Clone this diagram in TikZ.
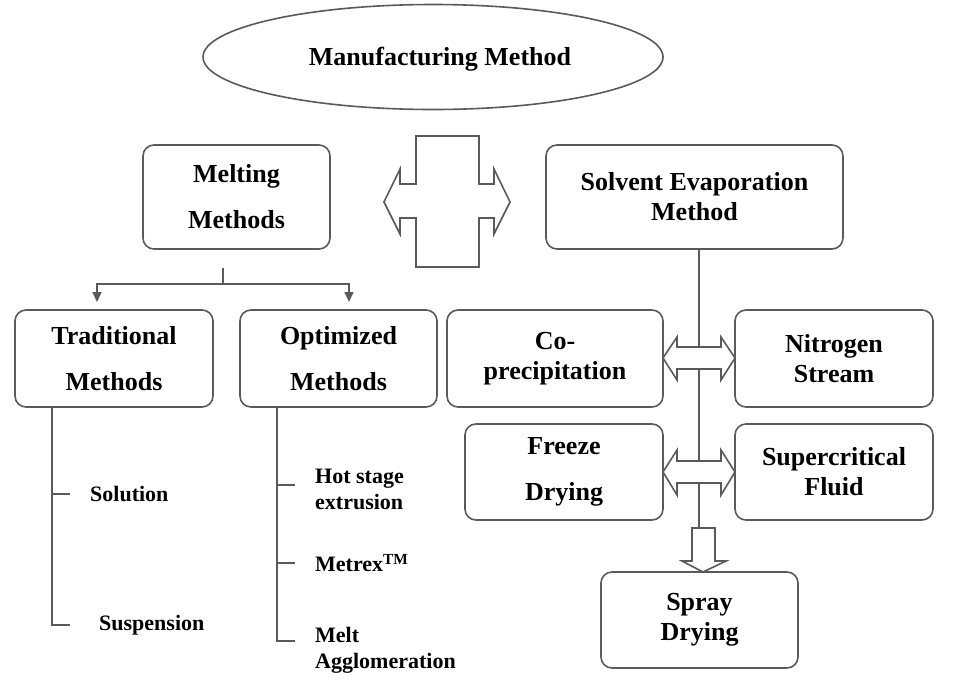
\documentclass[tikz,border=0pt]{standalone}
\usepackage{fontspec}
\setmainfont{Liberation Serif}
\usetikzlibrary{shapes.geometric,arrows.meta}
\definecolor{lc}{RGB}{90,90,90}
\begin{document}
\begin{tikzpicture}[x=1pt,y=-1pt,
  ln/.style={draw=lc,line width=1.6pt},
  box/.style={draw=lc,line width=1.6pt,rounded corners=11pt,inner sep=0pt,align=center,text=black},
  tight/.style={font=\bfseries\fontsize{26}{30}\selectfont},
  loose/.style={font=\bfseries\fontsize{26}{46}\selectfont},
  small/.style={font=\bfseries\fontsize{22}{26}\selectfont,anchor=west,inner sep=0pt,align=left},
  fat/.style={draw=lc,line width=1.6pt,fill=white,line join=miter},
  tip/.style={-{Triangle[width=9pt,length=10pt]}}
]
\fill[white] (0,0) rectangle (961,689);
\useasboundingbox (0,0) rectangle (961,689);

% top ellipse
\node[ellipse,draw=lc,line width=1.6pt,minimum width=460pt,minimum height=105pt,inner sep=0pt,
  label={[tight,xshift=7pt,yshift=-2pt]center:Manufacturing Method}] (mm) at (433,57) {};

% main boxes
\node[box,loose,minimum width=187pt,minimum height=104pt] (melt) at (236.5,197) {Melting\\Methods};
\node[box,tight,minimum width=297pt,minimum height=104pt] (solv) at (694.5,197) {Solvent Evaporation\\Method};

% cross double arrow
\draw[fat] (416,136) -- (479,136) -- (479,184) -- (494,184) -- (494,169) -- (510,202)
  -- (494,234) -- (494,218) -- (479,218) -- (479,267) -- (416,267) -- (416,218)
  -- (400,218) -- (400,234) -- (384,202) -- (400,169) -- (400,184) -- (416,184) -- cycle;

% melting sub boxes
\node[box,loose,minimum width=198pt,minimum height=97pt] (trad) at (114,358.5) {Traditional\\Methods};
\node[box,loose,minimum width=197pt,minimum height=97pt] (opt) at (338.5,358.5) {Optimized\\Methods};

\coordinate (mj) at (223,268);
\coordinate (mh) at (223,284);
\coordinate (ta) at (97,302);
\coordinate (oa) at (349,302);
\draw[ln] (mj) -- (mh);
\draw[ln,tip] (mh) -| (ta);
\draw[ln,tip] (mh) -| (oa);

% traditional list
\node[small] (sol) at (90,494) {Solution};
\node[small] (sus) at (99,625) {Suspension};
\coordinate (tt) at (52,407);
\draw[ln] (tt) |- ([xshift=-29pt]sus.west);
\draw[ln] (tt |- sol.west) -- ([xshift=-20pt]sol.west);

% optimized list
\node[small] (hse) at (315,489) {Hot stage\\extrusion};
\node[small] (met) at (315,563) {Metrex\textsuperscript{TM}};
\node[small] (mel) at (315,650) {Melt\\Agglomeration};
\coordinate (ot) at (277,407);
\draw[ln] (ot) |- ([xshift=-20pt,yshift=9pt]mel.west);
\draw[ln] (ot |- met.west) -- ([xshift=-20pt]met.west);
\draw[ln] ([yshift=4pt]hse.west -| ot) -- ([xshift=-20pt,yshift=4pt]hse.west);

% solvent sub boxes
\node[box,tight,minimum width=216pt,minimum height=97pt] (cop) at (555,358.5) {Co-\\precipitation};
\node[box,tight,minimum width=198pt,minimum height=97pt] (nit) at (834,358.5) {Nitrogen\\Stream};
\node[box,loose,minimum width=198pt,minimum height=96pt] (frz) at (564,472) {Freeze\\Drying};
\node[box,tight,minimum width=198pt,minimum height=96pt] (sup) at (834,472) {Supercritical\\Fluid};
\node[box,tight,minimum width=197pt,minimum height=96pt] (spr) at (699.5,620) {Spray\\Drying};

\coordinate (vt) at (699,249);
\coordinate (vb) at (699,528);
\draw[ln] (vt) -- (vb);

% horizontal double arrows
\draw[fat] (663,358) -- (677,337) -- (677,347) -- (721,347) -- (721,337) -- (735,358)
  -- (721,380) -- (721,369) -- (677,369) -- (677,380) -- cycle;
\draw[fat] (663,472) -- (677,450) -- (677,461) -- (721,461) -- (721,450) -- (735,472)
  -- (721,495) -- (721,483) -- (677,483) -- (677,495) -- cycle;

% down arrow
\draw[fat] (692,528) -- (715,528) -- (715,561) -- (726,561) -- (703,572) -- (682,561)
  -- (692,561) -- cycle;
\end{tikzpicture}
\end{document}
